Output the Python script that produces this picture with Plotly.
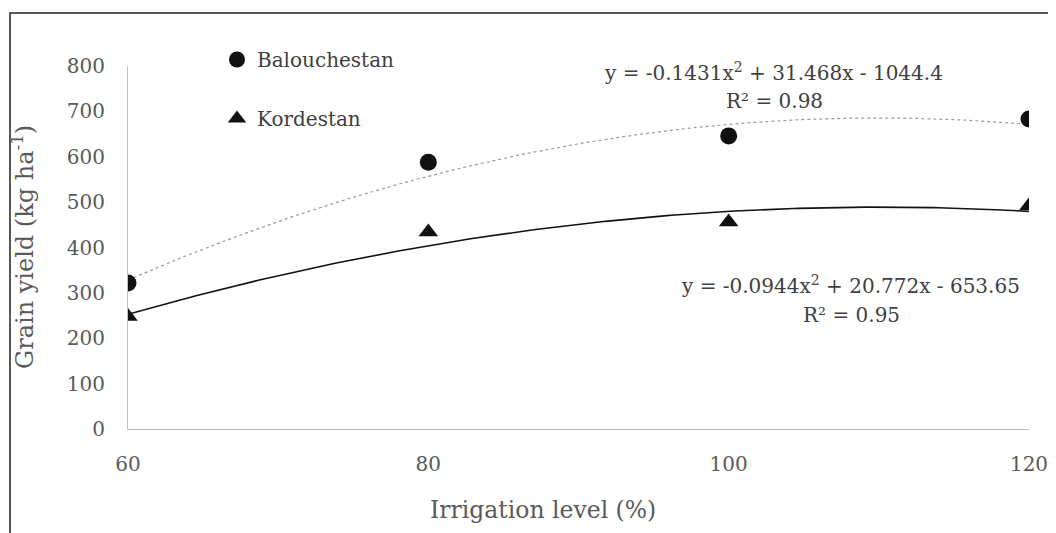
import numpy as np
import plotly.graph_objects as go

irrigation = [60, 80, 100, 120]
balouchestan = [322, 588, 646, 683]
kordestan = [248, 434, 456, 492]

# trendline coefficients as printed on the chart (a, b, c for y = a x^2 + b x + c)
coef_balouchestan = [-0.1431, 31.468, -1044.4]
coef_kordestan = [-0.0944, 20.772, -653.65]
r2_balouchestan = "0.98"
r2_kordestan = "0.95"

x_ticks = [60, 80, 100, 120]
y_ticks = [0, 100, 200, 300, 400, 500, 600, 700, 800]

FONT = "DejaVu Serif, serif"
TXT = "#404040"
TICK = "#595959"

# page has an 8px body margin; figure is sized to fit in the window
OFF = 8
W, H = 1056 - OFF, 533 - OFF
PL, PR, PT, PB = 128, 1029, 66, 429  # plot area in reference pixels
L, T = PL - OFF, PT - OFF
R = W - (PR - OFF)
B = H - (PB - OFF)
pw = W - L - R
ph = H - T - B


def px(xp):
    return (xp - OFF - L) / pw


def py(yp):
    return (H - B - (yp - OFF)) / ph


xs = np.linspace(60, 120, 200)
fit_b = np.polyval(coef_balouchestan, xs)
fit_k = np.polyval(coef_kordestan, xs)

fig = go.Figure()
fig.add_trace(go.Scatter(x=xs, y=fit_b, mode="lines", showlegend=False,
                         line=dict(color="#9a9a9a", width=1.2, dash="dot"),
                         hoverinfo="skip"))
fig.add_trace(go.Scatter(x=xs, y=fit_k, mode="lines", showlegend=False,
                         line=dict(color="#111111", width=1.6),
                         hoverinfo="skip"))
fig.add_trace(go.Scatter(x=irrigation, y=balouchestan, mode="markers",
                         name="Balouchestan", legendgroup="b",
                         marker=dict(symbol="circle", size=17, color="#111111")))
fig.add_trace(go.Scatter(x=irrigation, y=kordestan, mode="markers",
                         name="Kordestan", legendgroup="k",
                         marker=dict(symbol="triangle-up", size=17, color="#111111")))


def eq_text(c):
    a, b, k = c
    sk = "-" if k < 0 else "+"
    return f"y = {a:g}x<sup>2</sup> + {b:g}x {sk} {abs(k):g}"


annotations = [
    dict(x=px(773), y=py(72), text=eq_text(coef_balouchestan)),
    dict(x=px(774), y=py(101), text=f"R² = {r2_balouchestan}"),
    dict(x=px(850), y=py(285), text=eq_text(coef_kordestan)),
    dict(x=px(851), y=py(315), text=f"R² = {r2_kordestan}"),
]
for a in annotations:
    a.update(xref="paper", yref="paper", showarrow=False,
             xanchor="center", yanchor="middle",
             font=dict(family=FONT, size=20, color=TXT))

annotations.append(dict(x=px(543), y=py(510), xref="paper", yref="paper",
                        text="Irrigation level (%)", showarrow=False,
                        xanchor="center", yanchor="middle",
                        font=dict(family=FONT, size=23.5, color=TICK)))
annotations.append(dict(x=px(23), y=py(247), xref="paper", yref="paper",
                        text="Grain yield (kg ha<sup>-1</sup>)", showarrow=False,
                        textangle=-90, xanchor="center", yanchor="middle",
                        font=dict(family=FONT, size=24, color=TICK)))

fig.update_layout(
    width=W, height=H,
    margin=dict(l=L, r=R, t=T, b=B, autoexpand=False),
    paper_bgcolor="white", plot_bgcolor="white",
    font=dict(family=FONT, color=TICK),
    annotations=annotations,
    legend=dict(x=px(217), y=py(40), xanchor="left", yanchor="top",
                tracegroupgap=30, itemsizing="trace",
                font=dict(family=FONT, size=20, color=TXT),
                bgcolor="rgba(0,0,0,0)"),
    shapes=[dict(type="rect", xref="paper", yref="paper",
                 x0=px(10), x1=px(1080), y0=py(13), y1=py(580),
                 line=dict(color="#222222", width=1.5))],
)
fig.update_xaxes(range=[60, 120], tickvals=x_ticks, showgrid=False, zeroline=False,
                 showline=True, linecolor="#bfbfbf", linewidth=1.2, ticks="",
                 ticklabelstandoff=17, automargin=False,
                 tickfont=dict(family=FONT, size=20, color=TICK))
fig.update_yaxes(range=[0, 800], tickvals=y_ticks, showgrid=False, zeroline=False,
                 showline=True, linecolor="#bfbfbf", linewidth=1.2, ticks="",
                 ticklabelstandoff=18, automargin=False,
                 tickfont=dict(family=FONT, size=20, color=TICK))

fig.write_html("out.html")
